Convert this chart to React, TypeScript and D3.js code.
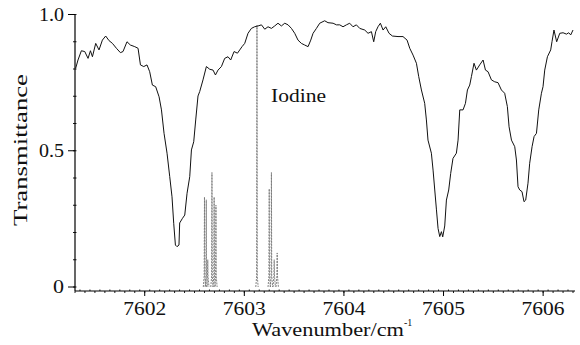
import React from "react";
import * as d3 from "d3";

const wavenumbers = [
  7601.307, 7601.33, 7601.364, 7601.398, 7601.431, 7601.455, 7601.475, 7601.508, 7601.541, 7601.575,
  7601.608, 7601.642, 7601.676, 7601.716, 7601.756, 7601.782, 7601.822, 7601.856, 7601.9, 7601.933,
  7601.957, 7601.99, 7602.023, 7602.05, 7602.077, 7602.11, 7602.144, 7602.168, 7602.194, 7602.224,
  7602.251, 7602.274, 7602.291, 7602.308, 7602.324, 7602.344, 7602.351, 7602.379, 7602.402, 7602.425,
  7602.452, 7602.469, 7602.492, 7602.512, 7602.535, 7602.552, 7602.585, 7602.619, 7602.653, 7602.686,
  7602.71, 7602.736, 7602.77, 7602.803, 7602.836, 7602.863, 7602.897, 7602.931, 7602.954, 7602.977,
  7603.004, 7603.037, 7603.071, 7603.104, 7603.138, 7603.172, 7603.205, 7603.238, 7603.272, 7603.305,
  7603.338, 7603.372, 7603.406, 7603.439, 7603.473, 7603.506, 7603.539, 7603.573, 7603.606, 7603.64,
  7603.667, 7603.69, 7603.724, 7603.757, 7603.807, 7603.84, 7603.891, 7603.925, 7603.958, 7603.991,
  7604.025, 7604.058, 7604.091, 7604.125, 7604.159, 7604.209, 7604.242, 7604.276, 7604.299, 7604.319,
  7604.342, 7604.366, 7604.393, 7604.42, 7604.453, 7604.487, 7604.543, 7604.593, 7604.634, 7604.661,
  7604.694, 7604.728, 7604.751, 7604.778, 7604.811, 7604.828, 7604.844, 7604.878, 7604.895, 7604.912,
  7604.929, 7604.945, 7604.962, 7604.979, 7604.992, 7605.012, 7605.029, 7605.052, 7605.072, 7605.095,
  7605.129, 7605.146, 7605.163, 7605.196, 7605.22, 7605.24, 7605.263, 7605.28, 7605.306, 7605.33,
  7605.363, 7605.397, 7605.421, 7605.447, 7605.481, 7605.514, 7605.547, 7605.581, 7605.614, 7605.641,
  7605.658, 7605.682, 7605.715, 7605.732, 7605.748, 7605.765, 7605.788, 7605.808, 7605.825, 7605.848,
  7605.865, 7605.889, 7605.909, 7605.933, 7605.956, 7605.983, 7605.999, 7606.016, 7606.043, 7606.076,
  7606.089, 7606.109, 7606.136, 7606.167, 7606.2, 7606.234, 7606.257, 7606.277, 7606.3,
];

const transmittance = [
  0.803, 0.833, 0.867, 0.864, 0.839, 0.867, 0.845, 0.894, 0.87, 0.906,
  0.921, 0.904, 0.894, 0.876, 0.86, 0.864, 0.9, 0.888, 0.882, 0.876,
  0.815, 0.809, 0.815, 0.79, 0.741, 0.735, 0.698, 0.65, 0.564, 0.491,
  0.405, 0.331, 0.234, 0.154, 0.148, 0.154, 0.235, 0.252, 0.264, 0.344,
  0.405, 0.503, 0.533, 0.613, 0.701, 0.717, 0.76, 0.809, 0.799, 0.796,
  0.778, 0.796, 0.809, 0.839, 0.845, 0.833, 0.864, 0.858, 0.87, 0.882,
  0.894, 0.931, 0.949, 0.955, 0.958, 0.962, 0.946, 0.955, 0.949, 0.958,
  0.968, 0.958, 0.968, 0.962, 0.949, 0.931, 0.906, 0.894, 0.888, 0.882,
  0.906, 0.931, 0.949, 0.968, 0.977, 0.97, 0.968, 0.962, 0.962, 0.955,
  0.962, 0.968, 0.955, 0.962, 0.949, 0.943, 0.931, 0.937, 0.9, 0.937,
  0.955, 0.968, 0.943, 0.955, 0.931, 0.921, 0.919, 0.919, 0.906, 0.876,
  0.851, 0.821, 0.772, 0.723, 0.674, 0.613, 0.539, 0.491, 0.429, 0.356,
  0.283, 0.215, 0.185, 0.203, 0.184, 0.224, 0.319, 0.356, 0.417, 0.472,
  0.491, 0.539, 0.65, 0.65, 0.674, 0.723, 0.741, 0.772, 0.821, 0.796,
  0.815, 0.833, 0.796, 0.79, 0.76, 0.753, 0.75, 0.723, 0.711, 0.662,
  0.588, 0.539, 0.515, 0.466, 0.368, 0.356, 0.35, 0.313, 0.319, 0.381,
  0.454, 0.515, 0.552, 0.564, 0.65, 0.711, 0.735, 0.796, 0.845, 0.87,
  0.9, 0.943, 0.9, 0.931, 0.933, 0.928, 0.933, 0.925, 0.943,
];

const iodinePositions = [
  7602.6, 7602.618, 7602.633, 7602.675, 7602.697, 7602.715,
  7603.127, 7603.25, 7603.272, 7603.3, 7603.33,
];
const iodineHeights = [0.33, 0.32, 0.1, 0.42, 0.33, 0.3, 0.96, 0.36, 0.42, 0.1, 0.125];

const xTickValues = [7602, 7603, 7604, 7605, 7606];
const xTickLabels = ["7602", "7603", "7604", "7605", "7606"];
const yTickValues = [0, 0.5, 1.0];
const yTickLabels = ["0", "0.5", "1.0"];

const FONT = "'Liberation Serif', 'Times New Roman', serif";

export default function App() {
  const W = 580;
  const H = 345;
  const x = d3.scaleLinear().domain([7601.3, 7606.32]).range([75, 575]);
  const y = d3.scaleLinear().domain([0, 1]).range([287, 14.5]);
  const axisY = 291;

  const pts: [number, number][] = wavenumbers.map((w, i) => [w, transmittance[i]]);
  const line = d3
    .line<[number, number]>()
    .x((d) => x(d[0]))
    .y((d) => y(d[1]));

  const peakLine = d3
    .line<[number, number]>()
    .x((d) => x(d[0]))
    .y((d) => y(d[1]));

  const minorX = d3.range(Math.ceil(7601.3 / 0.05), Math.floor(7606.32 / 0.05) + 1).map((k) => k * 0.05);
  const minorY = d3.range(0, 11).map((k) => k / 10);

  return (
    <svg width={W} height={H} style={{ display: "block", position: "absolute", left: 0, top: 0 }}>
      <rect width={W} height={H} fill="#fff" />
      {/* iodine */}
      {iodinePositions.map((p, i) => {
        const h = iodineHeights[i];
        const shape: [number, number][] = [
          [p - 0.012, 0],
          [p - 0.003, 0.04],
          [p, h],
          [p + 0.003, 0.04],
          [p + 0.012, 0],
        ];
        return (
          <path
            key={i}
            d={peakLine(shape) || ""}
            fill="none"
            stroke="#777"
            strokeWidth={0.9}
            strokeDasharray="2,1"
          />
        );
      })}
      {/* spectrum */}
      <path d={line(pts) || ""} fill="none" stroke="#111" strokeWidth={1} strokeLinejoin="round" />
      {/* axes */}
      <line x1={x.range()[0]} x2={x.range()[0]} y1={y(1)} y2={axisY} stroke="#000" strokeWidth={1.2} />
      <line x1={x.range()[0]} x2={x.range()[1]} y1={axisY} y2={axisY} stroke="#000" strokeWidth={1.2} />
      {minorX.map((v, i) => (
        <line key={"mx" + i} x1={x(v)} x2={x(v)} y1={axisY} y2={axisY + (i % 2 === 0 ? 2 : -1.5)} stroke="#000" strokeWidth={0.9} />
      ))}
      {xTickValues.map((v, i) => (
        <g key={"xt" + i}>
          <line x1={x(v)} x2={x(v)} y1={axisY} y2={axisY + 5} stroke="#000" strokeWidth={1} />
          <text
            x={x(v)}
            y={315}
            textAnchor="middle"
            fontFamily={FONT}
            fontSize={19}
            textLength={43}
            lengthAdjust="spacingAndGlyphs"
            fill="#111"
          >
            {xTickLabels[i]}
          </text>
        </g>
      ))}
      {minorY.map((v, i) => (
        <line key={"my" + i} x1={x.range()[0] - 2} x2={x.range()[0] + 1.5} y1={y(v)} y2={y(v)} stroke="#000" strokeWidth={0.9} />
      ))}
      {yTickValues.map((v, i) => (
        <g key={"yt" + i}>
          <line x1={x.range()[0] - 7} x2={x.range()[0]} y1={y(v)} y2={y(v)} stroke="#000" strokeWidth={1} />
          <text
            x={x.range()[0] - 11}
            y={y(v) + 6}
            textAnchor="end"
            fontFamily={FONT}
            fontSize={19}
            textLength={yTickLabels[i].length === 1 ? 11 : 25}
            lengthAdjust="spacingAndGlyphs"
            fill="#111"
          >
            {yTickLabels[i]}
          </text>
        </g>
      ))}
      {/* labels */}
      <text
        transform="translate(27,150) rotate(-90)"
        textAnchor="middle"
        fontFamily={FONT}
        fontSize={19}
        textLength={152}
        lengthAdjust="spacingAndGlyphs"
        fill="#111"
      >
        Transmittance
      </text>
      <text x={252} y={336} fontFamily={FONT} fontSize={19} textLength={152} lengthAdjust="spacingAndGlyphs" fill="#111">
        Wavenumber/cm
      </text>
      <text x={404} y={326} fontFamily={FONT} fontSize={10} fill="#111">
        -1
      </text>
      <text x={271} y={102} fontFamily={FONT} fontSize={19} textLength={55} lengthAdjust="spacingAndGlyphs" fill="#111">
        Iodine
      </text>
    </svg>
  );
}
